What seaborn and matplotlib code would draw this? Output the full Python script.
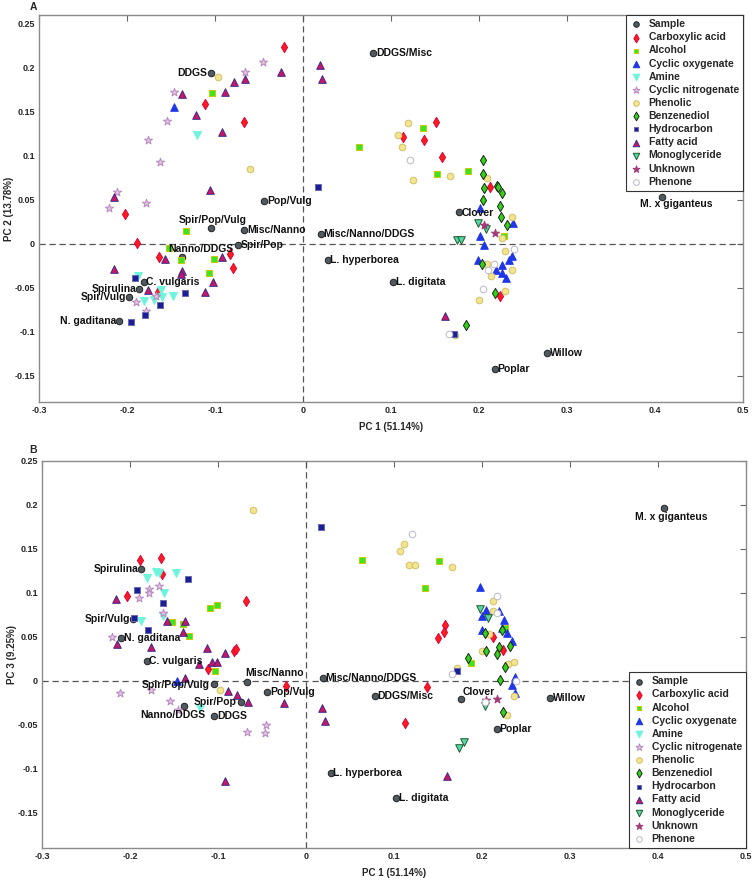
import matplotlib
matplotlib.use("Agg")
import matplotlib.pyplot as plt
import seaborn as sns
import pandas as pd

# ---------------- DATA ----------------
sample_names = ["DDGS", "DDGS/Misc", "Pop/Vulg", "Spir/Pop/Vulg", "Misc/Nanno", "Misc/Nanno/DDGS",
                "Spir/Pop", "Nanno/DDGS", "L. hyperborea", "C. vulgaris", "Spirulina", "Spir/Vulg",
                "N. gaditana", "Clover", "M. x giganteus", "L. digitata", "Willow", "Poplar"]

A_sample_x = [-0.104, 0.080, -0.044, -0.104, -0.067, 0.020, -0.074, -0.138, 0.028, -0.181, -0.186,
              -0.198, -0.209, 0.177, 0.408, 0.102, 0.277, 0.218]
A_sample_y = [0.194, 0.217, 0.048, 0.018, 0.016, 0.011, -0.002, -0.015, -0.018, -0.043, -0.051,
              -0.061, -0.088, 0.036, 0.053, -0.044, -0.124, -0.143]

B_sample_x = [-0.1045, 0.078, -0.044, -0.1045, -0.067, 0.019, -0.074, -0.139, 0.028, -0.181, -0.1875,
              -0.197, -0.210, 0.176, 0.407, 0.102, 0.277, 0.217]
B_sample_y = [-0.040, -0.017, -0.0125, -0.003, -0.001, 0.003, -0.024, -0.028, -0.1045, 0.023, 0.127,
              0.0705, 0.049, -0.0205, 0.197, -0.133, -0.019, -0.0545]

A_carboxylic = [(-0.022, 0.224), (-0.111, 0.159), (-0.067, 0.138), (-0.202, 0.034), (-0.189, 0.001),
                (-0.164, -0.015), (-0.083, -0.012), (-0.080, -0.028), (-0.165, -0.055), (0.151, 0.138),
                (0.114, 0.121), (0.138, 0.118), (0.158, 0.099), (0.212, 0.064), (0.224, -0.060)]
A_alcohol = [(-0.103, 0.171), (0.064, 0.1095), (-0.133, 0.014), (-0.152, -0.005), (-0.139, -0.018),
             (-0.101, -0.017), (-0.107, -0.033), (0.136, 0.132), (0.152, 0.079), (0.188, 0.083),
             (0.228, 0.009)]
A_cyclic_oxygenate = [(-0.147, 0.155), (0.201, 0.040), (0.239, 0.024), (0.201, 0.009), (0.206, -0.002),
                      (0.2375, -0.0145), (0.234, -0.018), (0.199, -0.019), (0.226, -0.024),
                      (0.219, -0.0295), (0.226, -0.033), (0.231, -0.039)]
A_amine = [(-0.121, 0.1235), (-0.188, -0.037), (-0.161, -0.053), (-0.160, -0.061), (-0.148, -0.059),
           (-0.169, -0.064), (-0.181, -0.065)]
A_cyclic_nitrogenate = [(-0.046, 0.207), (-0.066, 0.195), (-0.147, 0.172), (-0.155, 0.140),
                        (-0.1765, 0.118), (-0.162, 0.093), (-0.211, 0.0587), (-0.178, 0.0466),
                        (-0.220, 0.0405), (-0.190, -0.066), (-0.178, -0.077), (-0.167, -0.059)]
A_phenolic = [(-0.097, 0.189), (-0.060, 0.085), (0.119, 0.137), (0.108, 0.124), (0.112, 0.1095),
              (0.167, 0.077), (0.125, 0.072), (0.209, 0.075), (0.237, 0.030), (0.226, 0.0064),
              (0.2295, -0.008), (0.209, -0.0227), (0.237, -0.030), (0.214, -0.037), (0.230, -0.054),
              (0.200, -0.064), (0.173, -0.104)]
A_benzenediol = [(0.204, 0.095), (0.205, 0.0795), (0.206, 0.063), (0.220, 0.066), (0.222, 0.064),
                 (0.226, 0.0576), (0.205, 0.0496), (0.2235, 0.0428), (0.2248, 0.030), (0.232, 0.021),
                 (0.203, -0.023), (0.218, -0.056), (0.185, -0.092)]
A_hydrocarbon = [(0.017, 0.065), (-0.191, -0.039), (-0.134, -0.056), (-0.162, -0.070), (-0.180, -0.081),
                 (-0.195, -0.089), (0.172, -0.103)]
A_fatty_acid = [(-0.025, 0.195), (-0.066, 0.1875), (-0.078, 0.184), (-0.089, 0.172), (-0.1375, 0.170),
                (-0.122, 0.146), (-0.092, 0.127), (-0.106, 0.061), (-0.215, 0.053), (0.019, 0.203),
                (0.022, 0.187), (-0.157, -0.017), (-0.092, -0.0155), (-0.215, -0.029), (-0.1375, -0.031),
                (-0.139, -0.034), (-0.102, -0.044), (-0.176, -0.053), (-0.111, -0.0545), (0.161, -0.082)]
A_monoglyceride = [(0.1985, 0.0235), (0.208, 0.017), (0.175, 0.004), (0.180, 0.004)]
A_unknown = [(0.206, 0.0216), (0.218, 0.0117)]
A_phenone = [(0.122, 0.095), (0.240, -0.006), (0.217, -0.023), (0.2105, -0.0295), (0.204, -0.0515),
             (0.166, -0.103)]

B_carboxylic = [(-0.189, 0.138), (-0.165, 0.140), (-0.164, 0.121), (-0.203, 0.0966), (-0.068, 0.091),
                (-0.082, 0.034), (-0.080, 0.036), (-0.111, 0.013), (-0.023, -0.006), (0.158, 0.064),
                (0.157, 0.056), (0.150, 0.0485), (0.212, 0.0504), (0.2235, 0.035), (0.137, -0.0064),
                (0.113, -0.048)]
B_alcohol = [(0.064, 0.137), (-0.109, 0.0826), (-0.1015, 0.086), (-0.152, 0.0674), (-0.140, 0.065),
             (-0.133, 0.0515), (-0.103, 0.011), (0.1515, 0.136), (0.135, 0.106), (0.226, 0.0606),
             (0.188, 0.0205)]
B_cyclic_oxygenate = [(-0.147, 0.0004), (0.198, 0.107), (0.205, 0.081), (0.219, 0.080), (0.200, 0.074),
                      (0.2246, 0.069), (0.1996, 0.058), (0.223, 0.060), (0.228, 0.054), (0.234, 0.0458),
                      (0.237, 0.004), (0.2345, -0.0045), (0.238, -0.0136)]
B_amine = [(-0.181, 0.117), (-0.170, 0.1235), (-0.167, 0.1227), (-0.148, 0.1227), (-0.161, 0.100),
           (-0.188, 0.0686), (-0.162, 0.0735), (-0.121, -0.031)]
B_cyclic_nitrogenate = [(-0.178, 0.104), (-0.178, 0.100), (-0.167, 0.108), (-0.190, 0.0947),
                        (-0.163, 0.077), (-0.220, 0.0504), (-0.176, -0.010), (-0.211, -0.014),
                        (-0.155, -0.023), (-0.146, -0.0326), (-0.067, -0.058), (-0.046, -0.050),
                        (-0.047, -0.0595)]
B_phenolic = [(-0.060, 0.194), (-0.098, -0.010), (0.111, 0.156), (0.107, 0.148), (0.117, 0.132),
              (0.124, 0.132), (0.166, 0.1295), (0.2125, 0.091), (0.213, 0.079), (0.208, 0.053),
              (0.1996, 0.0345), (0.172, 0.0148), (0.2295, 0.0193), (0.236, 0.0212), (0.236, -0.0174),
              (0.228, -0.039)]
B_benzenediol = [(0.203, 0.055), (0.223, 0.058), (0.232, 0.040), (0.205, 0.0345), (0.219, 0.038),
                 (0.217, 0.030), (0.184, 0.0265), (0.226, 0.0155), (0.221, 0.0015), (0.2235, -0.035)]
B_hydrocarbon = [(0.017, 0.175), (-0.134, 0.116), (-0.192, 0.103), (-0.1625, 0.088), (-0.195, 0.0716),
                 (-0.180, 0.0576), (0.172, 0.011)]
B_fatty_acid = [(-0.2155, 0.093), (-0.158, 0.0686), (-0.137, 0.068), (-0.140, 0.0553), (-0.215, 0.0424),
                (-0.1765, 0.038), (-0.112, 0.037), (-0.092, 0.0314), (-0.122, 0.019), (-0.107, 0.022),
                (-0.1015, 0.022), (-0.1375, 0.0034), (-0.089, -0.012), (-0.078, -0.016), (-0.066, -0.024),
                (-0.025, -0.025), (-0.092, -0.114), (0.018, -0.031), (0.022, -0.046), (0.160, -0.108)]
B_monoglyceride = [(0.198, 0.082), (0.207, 0.071), (0.203, -0.029), (0.180, -0.070), (0.174, -0.0765)]
B_unknown = [(0.205, -0.022), (0.217, -0.0205)]
B_phenone = [(0.121, 0.167), (0.217, 0.096), (0.217, 0.077), (0.166, 0.008), (0.239, 0.0004),
             (0.203, -0.024)]

categories = ["Carboxylic acid", "Alcohol", "Cyclic oxygenate", "Amine", "Cyclic nitrogenate",
              "Phenolic", "Benzenediol", "Hydrocarbon", "Fatty acid", "Monoglyceride", "Unknown", "Phenone"]
A_points = [A_carboxylic, A_alcohol, A_cyclic_oxygenate, A_amine, A_cyclic_nitrogenate, A_phenolic,
            A_benzenediol, A_hydrocarbon, A_fatty_acid, A_monoglyceride, A_unknown, A_phenone]
B_points = [B_carboxylic, B_alcohol, B_cyclic_oxygenate, B_amine, B_cyclic_nitrogenate, B_phenolic,
            B_benzenediol, B_hydrocarbon, B_fatty_acid, B_monoglyceride, B_unknown, B_phenone]

x_ticks = [-0.3, -0.2, -0.1, 0, 0.1, 0.2, 0.3, 0.4, 0.5]
y_ticks = [-0.15, -0.1, -0.05, 0, 0.05, 0.1, 0.15, 0.2, 0.25]
x_label = "PC 1 (51.14%)"
A_ylabel = "PC 2 (13.78%)"
B_ylabel = "PC 3 (9.25%)"

# ---------------- STYLE ----------------
sns.set_style("white")
plt.rcParams['font.family'] = ['Liberation Sans', 'DejaVu Sans']
plt.rcParams['font.weight'] = 'bold'

# marker, face, edge, size
cat_style = {
    "Carboxylic acid":    ('d', '#ff1c1c', '#e0003a', 27),
    "Alcohol":            ('s', '#3ce61e', '#c8c800', 17),
    "Cyclic oxygenate":   ('^', '#1f35e8', '#1f35e8', 30),
    "Amine":              ('v', '#6cf5dc', '#6cf5dc', 32),
    "Cyclic nitrogenate": ('*', '#e6c6e6', '#b888c0', 38),
    "Phenolic":           ('o', '#f3e48e', '#d2c06a', 23),
    "Benzenediol":        ('d', '#33d11a', '#1a2a1a', 27),
    "Hydrocarbon":        ('s', '#1a1f99', '#6a6ab0', 17),
    "Fatty acid":         ('^', '#cc1466', '#3a2a8c', 30),
    "Monoglyceride":      ('v', '#55d8a8', '#1f5a2a', 30),
    "Unknown":            ('*', '#a33a78', '#a33a78', 38),
    "Phenone":            ('o', '#ffffff', '#b8b8cc', 23),
}
sample_style = ('o', '#4f5b61', '#222222', 22)

A_label_pos = {  # offset (points), ha, va
    "DDGS": ((-3, 0), 'right', 'center'), "DDGS/Misc": ((2, 0), 'left', 'center'),
    "Pop/Vulg": ((2, 0), 'left', 'center'), "Spir/Pop/Vulg": ((1, 2), 'center', 'bottom'),
    "Misc/Nanno": ((2, 0), 'left', 'center'), "Misc/Nanno/DDGS": ((2, 0), 'left', 'center'),
    "Spir/Pop": ((2, 0), 'left', 'center'), "Nanno/DDGS": ((14, 6), 'center', 'center'),
    "L. hyperborea": ((2, 0), 'left', 'center'), "C. vulgaris": ((2, 0), 'left', 'center'),
    "Spirulina": ((-2, 0), 'right', 'center'), "Spir/Vulg": ((-2, 0), 'right', 'center'),
    "N. gaditana": ((-2, 0), 'right', 'center'), "Clover": ((2, -1), 'left', 'center'),
    "M. x giganteus": ((10, -5), 'center', 'center'), "L. digitata": ((2, 0), 'left', 'center'),
    "Willow": ((2, 0), 'left', 'center'), "Poplar": ((2, 0), 'left', 'center'),
}
B_label_pos = {
    "DDGS": ((2, 0), 'left', 'center'), "DDGS/Misc": ((2, 0), 'left', 'center'),
    "Pop/Vulg": ((2, 0), 'left', 'center'), "Spir/Pop/Vulg": ((-3, -1), 'right', 'center'),
    "Misc/Nanno": ((-1, 6), 'left', 'center'), "Misc/Nanno/DDGS": ((2, 0), 'left', 'center'),
    "Spir/Pop": ((-3, 0), 'right', 'center'), "Nanno/DDGS": ((-8, -7), 'center', 'center'),
    "L. hyperborea": ((2, 0), 'left', 'center'), "C. vulgaris": ((2, 0), 'left', 'center'),
    "Spirulina": ((-2, 0), 'right', 'center'), "Spir/Vulg": ((-2, 0), 'right', 'center'),
    "N. gaditana": ((2, 0), 'left', 'center'), "Clover": ((1, 5), 'left', 'center'),
    "M. x giganteus": ((5, -7), 'center', 'center'), "L. digitata": ((2, 0), 'left', 'center'),
    "Willow": ((2, 0), 'left', 'center'), "Poplar": ((2, 0), 'left', 'center'),
}

fig = plt.figure(figsize=(7.56, 8.80), dpi=100)
axA = fig.add_axes([39 / 756, 1 - 402 / 880, 704 / 756, 387 / 880])
axB = fig.add_axes([42 / 756, 1 - 848 / 880, 704 / 756, 387 / 880])


def draw(ax, sx, sy, points, label_pos, ylim, ylabel, legend_loc, anchor):
    m, fc, ec, s = sample_style
    sdf = pd.DataFrame({"x": sx, "y": sy, "name": sample_names})
    sns.scatterplot(data=sdf, x="x", y="y", marker=m, color=fc, edgecolor=ec, s=s,
                    linewidth=0.7, ax=ax, label="Sample", zorder=3)
    for cat, pts in zip(categories, points):
        m, fc, ec, s = cat_style[cat]
        df = pd.DataFrame(pts, columns=["x", "y"])
        sns.scatterplot(data=df, x="x", y="y", marker=m, color=fc, edgecolor=ec, s=s,
                        linewidth=0.7, ax=ax, label=cat, zorder=3)
    for name, x, y in zip(sample_names, sx, sy):
        off, ha, va = label_pos[name]
        ax.annotate(name, (x, y), xytext=off, textcoords='offset points', ha=ha, va=va,
                    fontsize=7.5, fontweight='bold', color='#111111', zorder=4)
    ax.axvline(0, color='#555555', ls=(0, (5, 3)), lw=0.9, zorder=1)
    ax.axhline(0, color='#555555', ls=(0, (5, 3)), lw=0.9, zorder=1)
    ax.set_xlim(-0.3, 0.5)
    ax.set_ylim(*ylim)
    ax.set_xticks(x_ticks)
    ax.set_yticks(y_ticks)
    ax.set_xticklabels(["%g" % t for t in x_ticks], fontsize=6.5, fontweight='bold')
    ax.set_yticklabels(["%g" % t for t in y_ticks], fontsize=6.5, fontweight='bold')
    ax.tick_params(direction='in', top=True, right=True, length=4, width=0.8,
                   color='#666666', pad=3)
    for sp in ax.spines.values():
        sp.set_color('#8a8a8a')
        sp.set_linewidth(1.0)
    ax.set_xlabel(x_label, fontsize=7, fontweight='bold')
    ax.set_ylabel(ylabel, fontsize=7, fontweight='bold')
    ax.xaxis.set_label_coords(0.5, -0.052)
    ax.yaxis.set_label_coords(-0.036, 0.5)
    leg = ax.legend(loc=legend_loc, bbox_to_anchor=anchor, borderaxespad=0, fancybox=False,
                    framealpha=1, edgecolor='#333333', prop={'size': 7.5, 'weight': 'bold'},
                    labelspacing=0.3, handletextpad=0.6, borderpad=0.4, handlelength=1.2,
                    markerscale=0.85)
    leg.get_frame().set_linewidth(0.8)


draw(axA, A_sample_x, A_sample_y, A_points, A_label_pos, (-0.18, 0.26), A_ylabel, 'upper right', (1, 1))
draw(axB, B_sample_x, B_sample_y, B_points, B_label_pos, (-0.19, 0.25), B_ylabel, 'lower right', (1, 0))

fig.text(33 / 756, 1 - 7 / 880, "A", fontsize=7.5, fontweight='bold', ha='center', va='center')
fig.text(33 / 756, 1 - 450 / 880, "B", fontsize=7.5, fontweight='bold', ha='center', va='center')

fig.savefig("out.png", dpi=100)
